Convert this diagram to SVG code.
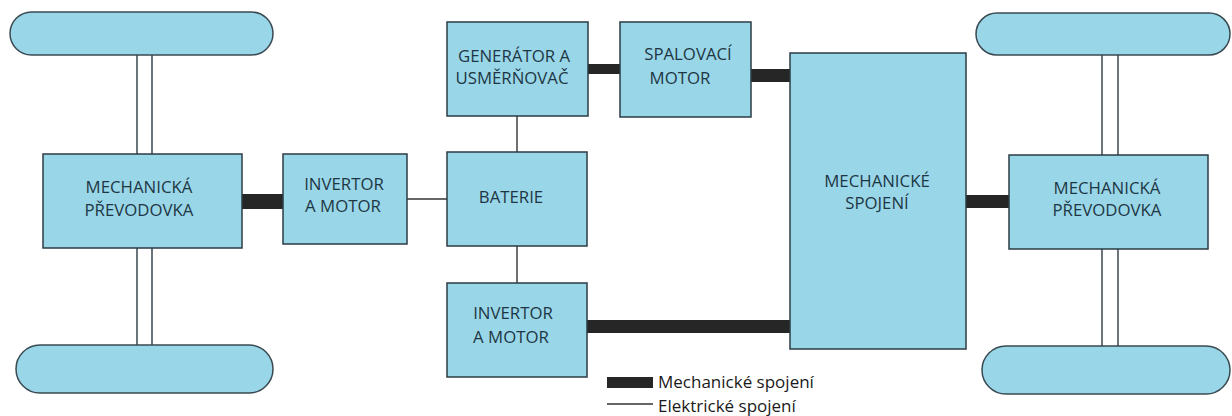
<svg xmlns="http://www.w3.org/2000/svg" width="1232" height="416" viewBox="0 0 1232 416">
<style>
.box{fill:#99d7e8;stroke:#2c3b44;stroke-width:1.5}
.wheel{fill:#99d7e8;stroke:#3a4a52;stroke-width:1.5}
.axle{stroke:#2c3b44;stroke-width:1.4;fill:none}
.mech{fill:#262626}
.el{stroke:#333;stroke-width:1.4;fill:none}
.t{font-family:"Open Sans","Noto Sans",sans-serif;font-size:16.8px;fill:#1e3644;text-anchor:middle}
.lg{font-family:"Open Sans","Noto Sans",sans-serif;font-size:17px;fill:#1a1a1a}
</style>
<rect width="1232" height="416" fill="#ffffff"/>
<g id="connectors">
  <line class="axle" x1="137" y1="55" x2="137" y2="154"/>
  <line class="axle" x1="152" y1="55" x2="152" y2="154"/>
  <line class="axle" x1="137" y1="248" x2="137" y2="345"/>
  <line class="axle" x1="152" y1="248" x2="152" y2="345"/>
  <line class="axle" x1="1102" y1="55" x2="1102" y2="155"/>
  <line class="axle" x1="1118" y1="55" x2="1118" y2="155"/>
  <line class="axle" x1="1102" y1="249" x2="1102" y2="346"/>
  <line class="axle" x1="1118" y1="249" x2="1118" y2="346"/>
  <rect class="mech" x="242" y="194" width="41" height="15"/>
  <rect class="mech" x="588" y="64" width="32" height="10"/>
  <rect class="mech" x="751" y="69" width="39" height="13"/>
  <rect class="mech" x="966" y="195" width="43" height="13"/>
  <rect class="mech" x="587" y="320" width="203" height="13"/>
  <line class="el" x1="407" y1="199" x2="447" y2="199"/>
  <line class="el" x1="517" y1="116" x2="517" y2="152"/>
  <line class="el" x1="517" y1="246" x2="517" y2="283"/>
</g>
<g id="wheel-tl"><rect class="wheel" x="10" y="12" width="263" height="43" rx="21.5"/></g>
<g id="wheel-bl"><rect class="wheel" x="16" y="345" width="257" height="48" rx="24"/></g>
<g id="wheel-tr"><rect class="wheel" x="976" y="13" width="254" height="42" rx="21"/></g>
<g id="wheel-br"><rect class="wheel" x="982" y="346" width="248" height="48" rx="24"/></g>
<g id="gearbox-left">
  <rect class="box" x="43" y="154" width="199" height="94"/>
  <text class="t" x="139" y="193">MECHANICKÁ</text>
  <text class="t" x="139" y="216">PŘEVODOVKA</text>
</g>
<g id="invertor-left">
  <rect class="box" x="283" y="154" width="124" height="90"/>
  <text class="t" x="344" y="190">INVERTOR</text>
  <text class="t" x="343" y="212">A MOTOR</text>
</g>
<g id="generator">
  <rect class="box" x="447" y="22" width="141" height="94"/>
  <text class="t" x="514" y="62">GENERÁTOR A</text>
  <text class="t" x="512" y="84">USMĚRŇOVAČ</text>
</g>
<g id="spalovaci">
  <rect class="box" x="620" y="22" width="131" height="95"/>
  <text class="t" x="688" y="60">SPALOVACÍ</text>
  <text class="t" x="680" y="84">MOTOR</text>
</g>
<g id="baterie">
  <rect class="box" x="447" y="152" width="140" height="94"/>
  <text class="t" x="511" y="203">BATERIE</text>
</g>
<g id="invertor-bottom">
  <rect class="box" x="447" y="283" width="140" height="94"/>
  <text class="t" x="513" y="319">INVERTOR</text>
  <text class="t" x="511" y="343">A MOTOR</text>
</g>
<g id="mech-spojeni">
  <rect class="box" x="790" y="53" width="176" height="296"/>
  <text class="t" x="877" y="187">MECHANICKÉ</text>
  <text class="t" x="877" y="209">SPOJENÍ</text>
</g>
<g id="gearbox-right">
  <rect class="box" x="1009" y="155" width="199" height="94"/>
  <text class="t" x="1107" y="194">MECHANICKÁ</text>
  <text class="t" x="1107" y="216">PŘEVODOVKA</text>
</g>
<g id="legend">
  <rect class="mech" x="607" y="377" width="46" height="11"/>
  <text class="lg" x="658" y="388">Mechanické spojení</text>
  <line class="el" x1="607" y1="404" x2="653" y2="404"/>
  <text class="lg" x="658" y="412">Elektrické spojení</text>
</g>
</svg>
